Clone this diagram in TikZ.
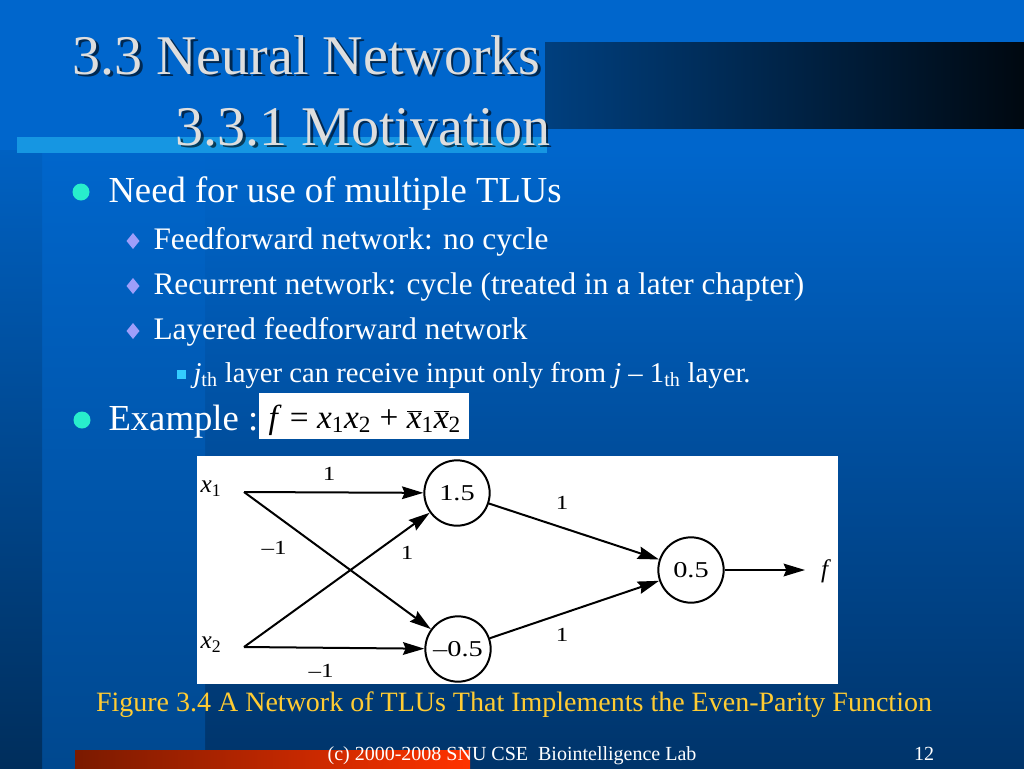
\documentclass[tikz,border=0pt]{standalone}
\usepackage{fontspec}
\setmainfont{Liberation Serif}
\usepackage{graphicx}
\usetikzlibrary{arrows.meta}

\definecolor{slideblue}{RGB}{0,102,204}
\definecolor{slidedeep}{RGB}{0,52,106}
\definecolor{banddeep}{RGB}{0,72,143}
\definecolor{stripdeep}{RGB}{0,46,92}
\definecolor{barlight}{RGB}{22,150,226}
\definecolor{titlegray}{RGB}{222,222,222}
\definecolor{dotcyan}{RGB}{40,238,204}
\definecolor{diamondlav}{RGB}{158,158,250}
\definecolor{squarecyan}{RGB}{51,204,255}
\definecolor{capyellow}{RGB}{255,204,51}
\definecolor{reddark}{RGB}{122,26,0}
\definecolor{redlight}{RGB}{255,51,0}

\tikzset{every picture/.style={line width=0.75pt}}
\tikzset{
  slidetitle/.style={inner sep=0pt, text=titlegray, font=\fontsize{42}{42}\selectfont},
  titleshade/.style={inner sep=0pt, text=black, text opacity=0.6, font=\fontsize{42}{42}\selectfont},
  lvlone/.style={inner sep=0pt, text=white, font=\fontsize{27.5}{27.5}\selectfont},
  lvltwo/.style={inner sep=0pt, text=white, font=\fontsize{23.5}{23.5}\selectfont},
  lvlthree/.style={inner sep=0pt, text=white, font=\fontsize{21.5}{21.5}\selectfont},
  neuron/.style={draw, circle, line width=1.5pt, minimum size=49pt, inner sep=0pt, font=\fontsize{17}{17}\selectfont},
  syn/.style={line width=1.5pt, -{Stealth[length=16pt,width=9.5pt,inset=2pt]}},
  wlabel/.style={inner sep=0.75pt, font=\fontsize{15}{15}\selectfont},
  inlabel/.style={inner sep=0.75pt, font=\fontsize{19}{19}\selectfont},
  figcap/.style={inner sep=0pt, text=capyellow, font=\fontsize{21}{21}\selectfont},
  footer/.style={inner sep=0pt, text=white, font=\fontsize{15}{15}\selectfont}
}
\newcommand{\wide}[1]{\scalebox{1.25}[1]{#1}}

\begin{document}
\begin{tikzpicture}[x=0.75pt,y=0.75pt,yscale=-1,xscale=1]
\useasboundingbox (0,0) rectangle (1024,768);

%Shape: Background
\fill [slideblue] (0,0) rectangle (1024,768);
\shade [top color=slideblue, bottom color=slidedeep] (205,150) rectangle (1024,768);
\shade [top color=slideblue, bottom color=banddeep] (42,150) rectangle (205,768);
\shade [top color=slideblue!95!black, bottom color=stripdeep] (0,150) rectangle (42,768);
%Shape: Rectangle (dark title band)
\shade [left color=slideblue!62!black, right color=black!92!slideblue] (545,42) rectangle (1024,128);
%Shape: Rectangle (light bar)
\fill [barlight] (17,137) rectangle (547,153);
%Shape: Rectangle (red bar)
\shade [left color=reddark, right color=redlight] (75,750) rectangle (470,768);

% Text Node
\draw (74.5,76.5) node [anchor=base west, titleshade] {3.3 Neural Networks};
\draw (72,74) node [anchor=base west, slidetitle] (title) {3.3 Neural Networks};
% Text Node
\draw (177.5,147.5) node [anchor=base west, titleshade] {3.3.1 Motivation};
\draw (175,145) node [anchor=base west, slidetitle] (subtitle) {3.3.1 Motivation};

%Shape: Circle bullets
\fill [dotcyan] (81,192) circle (8.5);
\fill [dotcyan] (82,420) circle (8.5);
%Shape: Diamond bullets
\foreach \yb in {241,286,331}
  \fill [diamondlav] (133,\yb-8) -- (139.5,\yb) -- (133,\yb+8) -- (126.5,\yb) -- cycle;
%Shape: Square bullet
\fill [squarecyan] (176.5,369.5) rectangle (185.5,378.5);

% Text Node
\draw (108,202) node [anchor=base west, lvlone] (need) {Need for use of multiple TLUs};
% Text Node
\draw (153,249) node [anchor=base west, lvltwo] (feed) {Feedforward network: no cycle};
% Text Node
\draw (153,294) node [anchor=base west, lvltwo] (recur) {Recurrent network: cycle (treated in a later chapter)};
% Text Node
\draw (153,339) node [anchor=base west, lvltwo] (layer) {Layered feedforward network};
% Text Node
\draw (193,382) node [anchor=base west, lvlthree] (jth) {\textit{j}\textsubscript{th} layer can receive input only from \textit{j} – 1\textsubscript{th} layer.};
% Text Node
\draw (108,430) node [anchor=base west, lvlone] (example) {Example :};

%Shape: Rectangle (formula box)
\fill [white] (259,393) rectangle (469,439);
% Text Node
\draw (268,428) node [anchor=base west, inner sep=0pt, font=\fontsize{25}{25}\selectfont] (formula) {\textit{f} = \textit{x}\textsubscript{1}\textit{x}\textsubscript{2} + $\overline{\mbox{\textit{x}}}$\textsubscript{1}$\overline{\mbox{\textit{x}}}$\textsubscript{2}};

%Shape: Rectangle (figure)
\fill [white] (197,456) rectangle (838,684);

% Text Node
\draw (211,489) node [inlabel] (x1) {\textit{x}\textsubscript{1}};
\draw (211,645) node [inlabel] (x2) {\textit{x}\textsubscript{2}};
\coordinate (x1out) at (244,492);
\coordinate (x2out) at (244,647);

%Shape: Circle
\draw (457,493) node [neuron] (hone) {\wide{1.5}};
\draw (458,649) node [neuron] (htwo) {\wide{–0.5}};
\draw (691,570) node [neuron] (outn) {\wide{0.5}};
\coordinate (fend) at (805,570);
\draw (826,571) node [inlabel] (fout) {\textit{f}};

%Straight Lines
\draw [syn] (x1out) -- (hone);
\draw [syn] (x1out) -- (htwo);
\draw [syn] (x2out) -- (hone);
\draw [syn] (x2out) -- (htwo);
\draw [syn] (hone) -- (outn);
\draw [syn] (htwo) -- (outn);
\draw [syn] (outn) -- (fend);

% Text Node
\draw (329,474) node [wlabel] (wa) {\wide{1}};
\draw (274,548) node [wlabel] (wb) {\wide{–1}};
\draw (407,553) node [wlabel] (wc) {\wide{1}};
\draw (321,671) node [wlabel] (wd) {\wide{–1}};
\draw (562,503) node [wlabel] (we) {\wide{1}};
\draw (562,635) node [wlabel] (wf) {\wide{1}};

% Text Node
\draw (514,711) node [anchor=base, figcap] (cap) {Figure 3.4 A Network of TLUs That Implements the Even-Parity Function};
% Text Node
\draw (512,760) node [anchor=base, footer] (foot) {(c) 2000-2008 SNU CSE\ \ Biointelligence Lab};
\draw (924,760) node [anchor=base, footer] (page) {12};

\end{tikzpicture}
\end{document}
